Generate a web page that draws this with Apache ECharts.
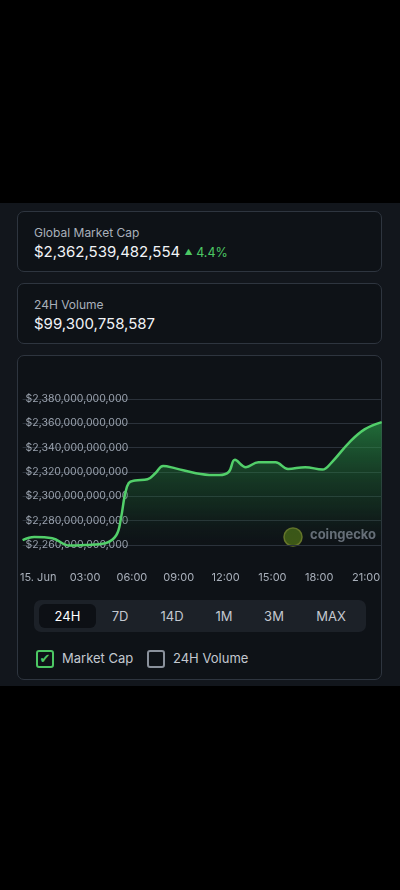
<!DOCTYPE html>
<html>
<head>
<meta charset="utf-8">
<script src="https://cdn.jsdelivr.net/npm/echarts@6/dist/echarts.min.js"></script>
<style>
    body { margin: 0; background: #000; font-family: Inter, "Noto Sans", sans-serif; width: 400px; height: 890px; position: relative; overflow: hidden; }
    .panel { position: absolute; left: 0; top: 203px; width: 400px; height: 483px; background: #12161c; }
    .card { position: absolute; left: 17px; width: 363px; border: 1.5px solid #2e353f; border-radius: 7px; background: #0e1217; }
    .lbl { position: absolute; left: 16px; font-size: 12px; color: #a9b0bb; }
    .val { position: absolute; left: 16px; font-size: 15px; color: #f2f4f7; }
    .up { color: #4cc764; font-size: 12.5px; }
    .up i { font-style: normal; font-size: 8px; vertical-align: 2px; }
    .tabs { position: absolute; left: 34px; top: 600px; width: 332px; height: 32px; background: #1c2128; border-radius: 7px; }
    .tab { position: absolute; top: 0; height: 32px; line-height: 32px; font-size: 13px; color: #c3c8d0; text-align: center; }
    .tab.on { top: 4px; height: 24px; line-height: 24px; background: #0d1015; border-radius: 6px; color: #fff; }
    .box { position: absolute; top: 650px; width: 14px; height: 14px; border-radius: 3px; }
    .chk { position: absolute; top: 650px; font-size: 13px; color: #c3c8d0; line-height: 17px; }
</style>
</head>
<body>
<div class="panel"></div>
<div class="card" style="top:211px;height:59px;">
    <div class="lbl" style="top:13px;">Global Market Cap</div>
    <div class="val" style="top:30px;">$2,362,539,482,554 <span class="up"><i>&#9650;</i> 4.4%</span></div>
</div>
<div class="card" style="top:283px;height:59px;">
    <div class="lbl" style="top:13px;">24H Volume</div>
    <div class="val" style="top:30px;">$99,300,758,587</div>
</div>
<div class="card" style="top:355px;height:323px;"></div>
<div id="chart" style="position:absolute;left:17px;top:355px;width:366px;height:240px;"></div>
<div class="tabs">
    <div class="tab on" style="left:5px;width:57px;">24H</div>
    <div class="tab" style="left:66px;width:40px;">7D</div>
    <div class="tab" style="left:118px;width:40px;">14D</div>
    <div class="tab" style="left:170px;width:40px;">1M</div>
    <div class="tab" style="left:220px;width:40px;">3M</div>
    <div class="tab" style="left:277px;width:40px;">MAX</div>
</div>
<div class="box" style="left:36px;border:2px solid #4cc764;color:#4cc764;font-size:13px;font-weight:bold;line-height:14px;text-align:center;font-family:'DejaVu Sans';">&#10004;</div>
<div class="chk" style="left:62px;">Market Cap</div>
<div class="box" style="left:147px;border:2px solid #8a919c;"></div>
<div class="chk" style="left:173px;">24H Volume</div>
<script>
// hours since 15 Jun 00:00, market cap in billions USD
var hours = [-1.0, -0.25, 0.9, 2.0, 3.0, 4.3, 5.0, 5.3, 5.55, 5.8, 6.2, 7.0, 7.5, 8.0, 8.8, 10.1, 11.2, 11.6, 12.2, 12.6, 13.3, 14.1, 15.2, 16.0, 17.1, 18.2, 18.8, 19.9, 20.9, 22.0];
var marketCap = [2264, 2266.5, 2265.5, 2259.5, 2260, 2261.5, 2268, 2282, 2301, 2311, 2313, 2314, 2319, 2325, 2323, 2319, 2317.5, 2317.5, 2320, 2330, 2324, 2328, 2328, 2322.5, 2324, 2322, 2328, 2344, 2355, 2361];
var tickHours = [0, 3, 6, 9, 12, 15, 18, 21];
var tickLabels = ['15. Jun', '03:00', '06:00', '09:00', '12:00', '15:00', '18:00', '21:00'];

var myChart = echarts.init(document.getElementById('chart'));

var option = {
    animation: false,
    grid: { left: 1, right: 1, top: 44, height: 146 },
    xAxis: {
        type: 'value',
        min: -1,
        max: 22,
        axisLine: { show: false },
        axisTick: { show: false },
        splitLine: { show: false },
        axisLabel: {
            customValues: tickHours,
            margin: 27,
            color: '#a9b0bb',
            fontSize: 11,
            fontFamily: 'Inter',
            formatter: function (v) {
                return tickLabels[tickHours.indexOf(v)];
            }
        }
    },
    yAxis: {
        type: 'value',
        min: 2260,
        max: 2380,
        interval: 20,
        axisLine: { show: false },
        axisTick: { show: false },
        splitLine: { lineStyle: { color: '#2b323b', width: 1 } },
        axisLabel: {
            inside: true,
            margin: 3,
            color: '#9aa2ae',
            fontSize: 10.5,
            fontFamily: 'Inter',
            formatter: function (v) {
                return '$' + (v * 1e9).toLocaleString('en-US');
            }
        }
    },
    graphic: [
        {
            type: 'circle',
            shape: { cx: 276, cy: 182, r: 9 },
            style: { fill: '#3f5a16', stroke: '#6b7a2a', lineWidth: 1.5 }
        },
        {
            type: 'text',
            left: 293,
            top: 174,
            style: { text: 'coingecko', fill: '#6e7480', font: 'bold 13px Inter' }
        }
    ],
    series: [
        {
            type: 'line',
            data: hours.map(function (h, i) { return [h, marketCap[i]]; }),
            smooth: 0.4,
            showSymbol: false,
            clip: false,
            lineStyle: { color: '#52cf6a', width: 2.5 },
            areaStyle: {
                origin: 'start',
                color: new echarts.graphic.LinearGradient(0, 0, 0, 1, [
                    { offset: 0, color: 'rgba(46,170,80,0.85)' },
                    { offset: 0.7, color: 'rgba(30,100,50,0.35)' },
                    { offset: 1, color: 'rgba(20,40,30,0.05)' }
                ])
            }
        }
    ]
};

myChart.setOption(option);
</script>
</body>
</html>
